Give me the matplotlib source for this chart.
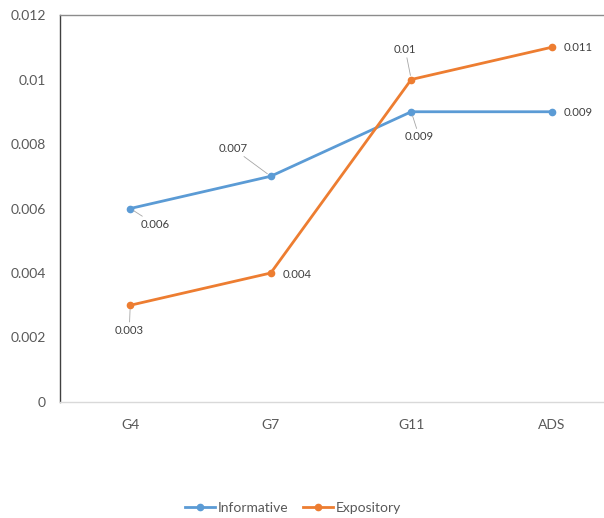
import matplotlib
matplotlib.use("Agg")
import matplotlib.pyplot as plt

categories = ["G4", "G7", "G11", "ADS"]
informative = [0.006, 0.007, 0.009, 0.009]
expository = [0.003, 0.004, 0.010, 0.011]
info_labels = ["0.006", "0.007", "0.009", "0.009"]
expo_labels = ["0.003", "0.004", "0.01", "0.011"]
yticks = [0, 0.002, 0.004, 0.006, 0.008, 0.01, 0.012]
ytick_labels = ["0", "0.002", "0.004", "0.006", "0.008", "0.01", "0.012"]

plt.rcParams['font.family'] = ['Lato', 'DejaVu Sans']
W, H = 604, 518
fig = plt.figure(figsize=(W / 100, H / 100), dpi=100)
ax = fig.add_axes([60 / W, (518 - 402) / H, 562 / W, 387 / H])

blue = "#5B9BD5"
orange = "#ED7D31"
x = [i + 0.5 for i in range(len(categories))]
ax.plot(x, informative, color=blue, lw=2.0, marker="o", ms=4.5, label="Informative", zorder=3)
ax.plot(x, expository, color=orange, lw=2.0, marker="o", ms=4.5, label="Expository", zorder=3)

ax.set_xlim(0, 4)
ax.set_ylim(0, 0.012)
ax.set_xticks(x)
ax.set_xticklabels(categories)
ax.set_yticks(yticks)
ax.set_yticklabels(ytick_labels)
ax.tick_params(axis="both", length=0, labelsize=10, colors="#595959")
ax.tick_params(axis="x", pad=12)
ax.tick_params(axis="y", pad=10)

ax.spines["left"].set_color("#404040")
ax.spines["left"].set_linewidth(1.0)
ax.spines["top"].set_color("#8c8c8c")
ax.spines["top"].set_linewidth(1.0)
ax.spines["bottom"].set_color("#d9d9d9")
ax.spines["bottom"].set_linewidth(1.0)
ax.spines["right"].set_visible(False)

lab_kw = dict(textcoords="offset pixels", fontsize=8.2, color="#404040", va="center")
leader = dict(arrowstyle="-", color="#a6a6a6", lw=0.6, shrinkA=0, shrinkB=3)

info_off = [(25, -16), (-38, 28), (8, -25), (26, -1)]
info_arrow = [True, True, True, False]
for xi, yi, t, off, arr in zip(x, informative, info_labels, info_off, info_arrow):
    ax.annotate(t, (xi, yi), xytext=off, ha="center",
                arrowprops=leader if arr else None, **lab_kw)

expo_off = [(-1, -25), (26, -1), (-6, 30), (26, 0)]
expo_arrow = [True, False, True, False]
for xi, yi, t, off, arr in zip(x, expository, expo_labels, expo_off, expo_arrow):
    ax.annotate(t, (xi, yi), xytext=off, ha="center",
                arrowprops=leader if arr else None, **lab_kw)

leg = fig.legend(loc="center", bbox_to_anchor=(293 / W, 1 - 508 / H), ncol=2,
                 frameon=False, fontsize=10, handlelength=2.2, handletextpad=0.2,
                 columnspacing=1.0)
for t in leg.get_texts():
    t.set_color("#595959")

fig.savefig("out.png", dpi=100)
